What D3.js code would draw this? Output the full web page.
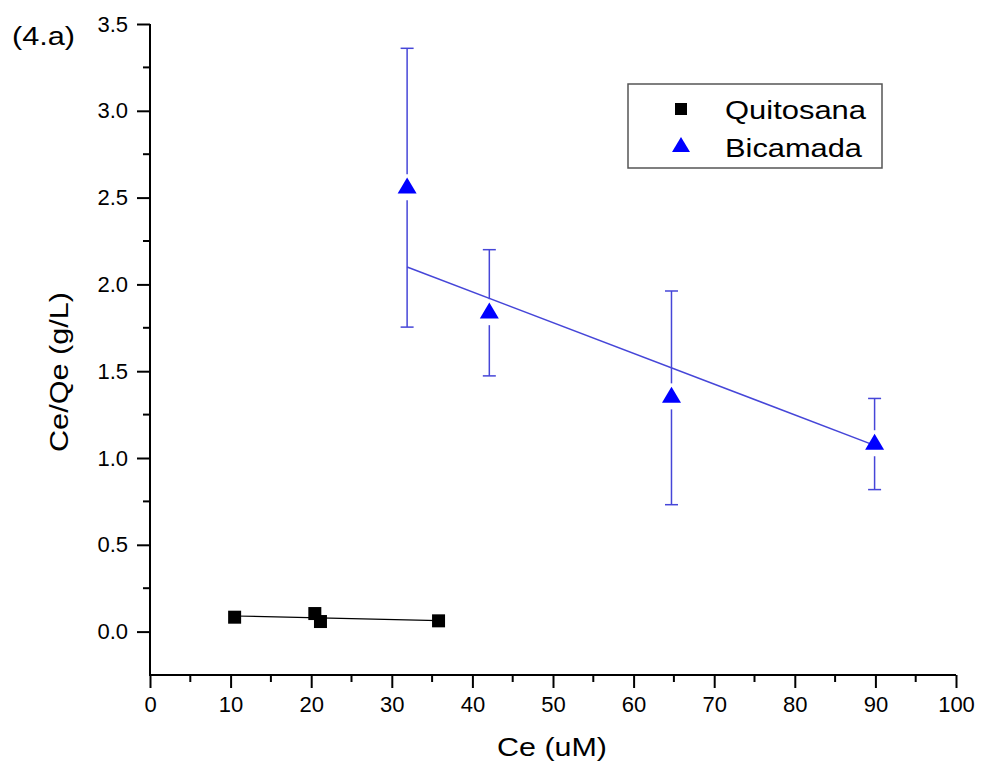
<!DOCTYPE html>
<html>
<head>
<meta charset="utf-8">
<script src="https://cdn.jsdelivr.net/npm/d3@7"></script>
<style>
  html, body { margin: 0; padding: 0; background: #fff; }
  text { font-family: Arial, "Liberation Sans", sans-serif; fill: #000; }
</style>
</head>
<body>
<svg id="chart" width="981" height="774"></svg>
<script>
// ---- data ----
const quitosanaX = [10.5, 20.45, 21.15, 35.8];
const quitosanaY = [0.083, 0.104, 0.058, 0.062];
const quitosanaFitX = [10.5, 35.8];
const quitosanaFitY = [0.090, 0.063];

const bicamadaX = [31.9, 42.1, 64.7, 89.9];
const bicamadaY = [2.56, 1.84, 1.355, 1.085];
const bicamadaErrLow = [1.754, 1.473, 0.731, 0.818];
const bicamadaErrHigh = [3.36, 2.20, 1.962, 1.343];
const bicamadaFitX = [31.9, 89.9];
const bicamadaFitY = [2.10, 1.073];

const xTicks = [0, 10, 20, 30, 40, 50, 60, 70, 80, 90, 100];
const yTicks = [0.0, 0.5, 1.0, 1.5, 2.0, 2.5, 3.0, 3.5];
const legendLabels = ["Quitosana", "Bicamada"];

// ---- chart ----
const svg = d3.select("#chart");
const x = d3.scaleLinear().domain([0, 100]).range([150, 956]);
const y = d3.scaleLinear().domain([-0.25, 3.5]).range([675, 24]);

const blueMark = "#0000ff";
const blueLine = "#4646d8";

// axes
const xAxis = d3.axisBottom(x).tickValues(xTicks).tickFormat(d3.format("d"))
  .tickSizeInner(13).tickSizeOuter(0).tickPadding(8);
const gx = svg.append("g").attr("transform", `translate(0,${y(-0.25)})`).call(xAxis);
const xMinor = d3.range(5, 100, 10);
gx.selectAll(".minor").data(xMinor).enter().append("line")
  .attr("x1", d => x(d)).attr("x2", d => x(d)).attr("y1", 0).attr("y2", 7)
  .attr("stroke", "#000").attr("stroke-width", 2);

const yAxis = d3.axisLeft(y).tickValues(yTicks).tickFormat(d3.format(".1f"))
  .tickSizeInner(13).tickSizeOuter(0).tickPadding(9);
const gy = svg.append("g").attr("transform", `translate(${x(0)},0)`).call(yAxis);
const yMinor = [0.25, 0.75, 1.25, 1.75, 2.25, 2.75, 3.25];
gy.selectAll(".minor").data(yMinor).enter().append("line")
  .attr("x1", 0).attr("x2", -7).attr("y1", d => y(d)).attr("y2", d => y(d))
  .attr("stroke", "#000").attr("stroke-width", 2);

[gx, gy].forEach(g => {
  g.select(".domain").attr("stroke", "#000").attr("stroke-width", 2);
  g.selectAll(".tick line").attr("stroke", "#000").attr("stroke-width", 2);
  g.selectAll(".tick text").attr("font-size", 22).attr("fill", "#000")
    .attr("font-family", "Arial, 'Liberation Sans', sans-serif");
});
gy.select(".domain").attr("d", `M0,${y(3.5)}V${y(-0.25) + 1}`);
gx.select(".domain").attr("d", `M${x(0) - 1},0H${x(100)}`);

// axis titles
svg.append("text").attr("x", 552).attr("y", 756).attr("text-anchor", "middle")
  .attr("font-size", 25).attr("textLength", 110).attr("lengthAdjust", "spacingAndGlyphs")
  .text("Ce (uM)");
svg.append("text").attr("transform", "translate(68,372) rotate(-90)")
  .attr("text-anchor", "middle").attr("font-size", 25)
  .attr("textLength", 160).attr("lengthAdjust", "spacingAndGlyphs")
  .text("Ce/Qe (g/L)");
svg.append("text").attr("x", 12).attr("y", 45).attr("font-size", 25)
  .attr("textLength", 63).attr("lengthAdjust", "spacingAndGlyphs")
  .text("(4.a)");

const line = d3.line().x(d => x(d[0])).y(d => y(d[1]));

// Quitosana fit + markers
svg.append("path").datum(d3.zip(quitosanaFitX, quitosanaFitY))
  .attr("d", line).attr("fill", "none").attr("stroke", "#000").attr("stroke-width", 1.2);
const sq = 13;
svg.append("g").selectAll("rect").data(d3.zip(quitosanaX, quitosanaY)).enter().append("rect")
  .attr("x", d => x(d[0]) - sq / 2).attr("y", d => y(d[1]) - sq / 2)
  .attr("width", sq).attr("height", sq).attr("fill", "#000");

// Bicamada error bars
const bic = bicamadaX.map((v, i) => ({ x: v, y: bicamadaY[i], lo: bicamadaErrLow[i], hi: bicamadaErrHigh[i] }));
const gapTop = 13, gapBot = 13, cap = 6.5;
const eb = svg.append("g").attr("stroke", blueLine).attr("stroke-width", 1.5);
bic.forEach(d => {
  const cx = x(d.x), cy = y(d.y);
  eb.append("line").attr("x1", cx).attr("x2", cx).attr("y1", y(d.hi)).attr("y2", cy - gapTop);
  eb.append("line").attr("x1", cx).attr("x2", cx).attr("y1", cy + gapBot).attr("y2", y(d.lo));
  eb.append("line").attr("x1", cx - cap).attr("x2", cx + cap).attr("y1", y(d.hi)).attr("y2", y(d.hi));
  eb.append("line").attr("x1", cx - cap).attr("x2", cx + cap).attr("y1", y(d.lo)).attr("y2", y(d.lo));
});

// Bicamada fit
svg.append("path").datum(d3.zip(bicamadaFitX, bicamadaFitY))
  .attr("d", line).attr("fill", "none").attr("stroke", blueLine).attr("stroke-width", 1.5);

// triangles
function tri(cx, cy, w, h) {
  return `M${cx},${cy - h * 0.6}L${cx + w / 2},${cy + h * 0.4}L${cx - w / 2},${cy + h * 0.4}Z`;
}
svg.append("g").selectAll("path").data(bic).enter().append("path")
  .attr("d", d => tri(x(d.x), y(d.y), 19, 16)).attr("fill", blueMark);

// legend
const lg = svg.append("g");
lg.append("rect").attr("x", 628).attr("y", 84).attr("width", 254).attr("height", 84)
  .attr("fill", "#fff").attr("stroke", "#555").attr("stroke-width", 1.5);
lg.append("rect").attr("x", 681 - 6).attr("y", 109 - 6).attr("width", 12).attr("height", 12).attr("fill", "#000");
lg.append("path").attr("d", tri(681, 146, 18, 15)).attr("fill", blueMark);
lg.selectAll("text.lab").data(legendLabels).enter().append("text")
  .attr("class", "lab").attr("x", 725).attr("y", (d, i) => 119 + i * 38)
  .attr("font-size", 25).attr("textLength", (d, i) => i === 0 ? 141 : 137)
  .attr("lengthAdjust", "spacingAndGlyphs").text(d => d);
</script>
</body>
</html>
